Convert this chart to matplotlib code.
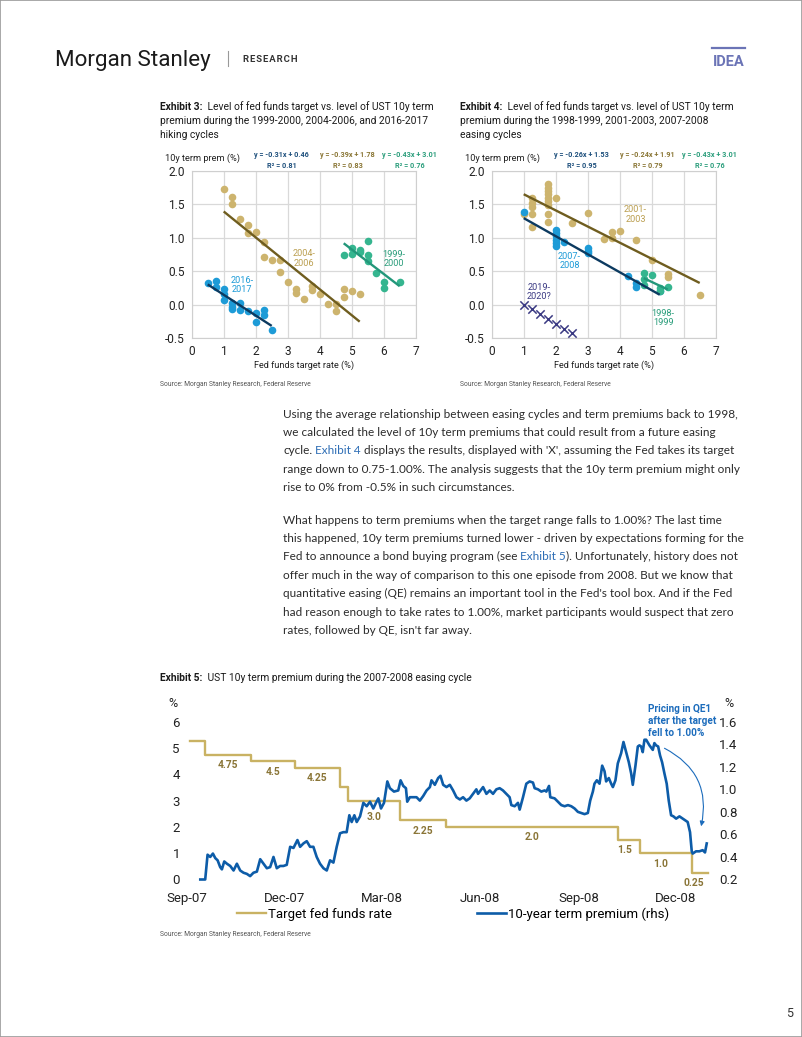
import numpy as np
import pandas as pd
import matplotlib
matplotlib.use('Agg')
import matplotlib.pyplot as plt
import matplotlib.dates as mdates
from matplotlib.patches import Rectangle, FancyArrowPatch
from matplotlib.lines import Line2D
from matplotlib.ticker import FormatStrFormatter

plt.rcParams['font.family'] = ['Roboto', 'DejaVu Sans']

# ---------------- Exhibit 3: hiking cycles ----------------
hike_9900_x = [4.75, 5.0, 5.0, 5.25, 5.25, 5.5, 5.5, 5.5, 5.75, 6.0, 6.0, 6.5]
hike_9900_y = [0.75, 0.84, 0.76, 0.82, 0.79, 0.95, 0.74, 0.65, 0.48, 0.34, 0.25, 0.34]
hike_0406_x = [1.0, 1.25, 1.25, 1.5, 1.75, 1.75, 2.0, 2.25, 2.25, 2.5, 2.75, 2.75, 3.0,
               3.25, 3.25, 3.5, 3.75, 3.75, 4.0, 4.25, 4.5, 4.5, 4.75, 4.75, 5.0, 5.25]
hike_0406_y = [1.73, 1.61, 1.51, 1.28, 1.19, 1.07, 1.08, 0.94, 0.71, 0.67, 0.67, 0.49, 0.34,
               0.24, 0.18, 0.085, 0.28, 0.22, 0.16, 0.01, 0.01, -0.09, 0.24, 0.11, 0.20, 0.16]
hike_1617_x = [0.5, 0.75, 0.75, 1.0, 1.0, 1.0, 1.25, 1.25, 1.25, 1.5, 1.5, 1.75, 2.0, 2.0,
               2.25, 2.25, 2.5]
hike_1617_y = [0.33, 0.36, 0.26, 0.23, 0.16, 0.07, 0.02, -0.03, -0.07, 0.02, -0.08, -0.10,
               -0.13, -0.26, -0.08, -0.15, -0.38]

# ---------------- Exhibit 4: easing cycles ----------------
ease_9899_x = [4.75, 4.75, 4.75, 5.0, 5.25, 5.25, 5.5]
ease_9899_y = [0.47, 0.38, 0.30, 0.45, 0.25, 0.21, 0.26]
ease_0103_x = [1.0, 1.25, 1.25, 1.25, 1.25, 1.25, 1.75, 1.75, 1.75, 1.75, 1.75, 1.75, 1.75,
               1.75, 1.75, 2.0, 2.5, 3.0, 3.5, 3.75, 3.75, 4.0, 4.5, 5.0, 5.5, 5.5, 6.5]
ease_0103_y = [1.36, 1.60, 1.52, 1.46, 1.36, 1.16, 1.80, 1.75, 1.70, 1.65, 1.60, 1.55, 1.49,
               1.36, 1.24, 1.60, 1.22, 1.37, 0.98, 1.08, 1.00, 1.10, 0.97, 0.67, 0.46, 0.42, 0.15]
ease_0708_x = [1.0, 2.0, 2.0, 2.0, 2.0, 2.0, 2.0, 2.25, 3.0, 3.0, 3.0, 4.25, 4.5, 4.5, 5.25]
ease_0708_y = [1.39, 1.12, 1.07, 1.02, 0.97, 0.92, 0.87, 0.93, 0.84, 0.80, 0.77, 0.43, 0.32,
               0.27, 0.21]
ease_1920_x = [1.0, 1.25, 1.5, 1.75, 2.0, 2.25, 2.5]
ease_1920_y = [-0.01, -0.07, -0.14, -0.22, -0.29, -0.36, -0.43]

# ---------------- Exhibit 5: 2007-2008 easing ----------------
ffr_dates = ['2007-09-04', '2007-09-18', '2007-10-31', '2007-12-11', '2008-01-22', '2008-01-30',
             '2008-03-18', '2008-04-30', '2008-10-08', '2008-10-29', '2008-12-16', '2008-12-31']
ffr_rate = [5.25, 4.75, 4.5, 4.25, 3.5, 3.0, 2.25, 2.0, 1.5, 1.0, 0.25, 0.25]
ffr_step_labels = ['', '4.75', '4.5', '4.25', '', '3.0', '2.25', '2.0', '1.5', '1.0', '0.25']

tp_start = '2007-09-05'
tp_days = [8.6, 13.2, 15.4, 17.9, 20.4, 22.6, 24.8, 27.2, 28.8, 31, 33.5, 36.6, 39.7, 42.8,
           45.9, 49, 52.1, 55.2, 58.3, 61.5, 64.6, 67.7, 70.8, 73.9, 77, 80.1, 83.2, 86.3,
           89.4, 92.6, 95.7, 99.4, 101.9, 105, 108.1, 111.2, 114.3, 117.4, 120.5, 123.7,
           126.8, 129.9, 133, 136.1, 139.2, 142.3, 145.4, 147.9, 150.1, 152.6, 154.8, 157.9,
           161, 164.1, 167.2, 170.3, 172.8, 175, 177.5, 180.3, 183.4, 185.8, 189.6, 193.6,
           195.8, 198.3, 200.8, 202, 204.5, 207.6, 210.7, 213.8, 216.9, 220.1, 223.2, 224.7,
           227.8, 230.9, 233.1, 235.6, 238.7, 241.8, 244.9, 248, 251.2,
           254.2, 257.3, 260.4, 263.5, 266.6, 268.2, 272.9, 276, 279.1, 282.2, 285.3, 288.4,
           291.5, 294.6, 297.7, 299.3, 302.4, 305.5, 307.1, 310.2, 313.3, 316.4, 319.5, 321.1,
           324.2, 327.3, 330.4, 332, 334.5, 335.7, 339.7, 342.8, 346, 349.1, 352.2, 355.3,
           358.4, 361.5, 364.6, 367.7, 370.8, 373, 375.5, 377, 379.2, 381.7, 384.2, 386.4,
           387.9, 390.4, 392.6, 394.2, 396.6, 398.8, 401.9, 404.1, 406.6, 409.1, 411.3, 412.8,
           415.3, 417.5, 419, 420.6, 422.1, 423.7, 425.3, 428.4, 431.5, 433, 434.6, 436.5,
           438.3, 440.2, 442.4, 444.5, 446.4, 448.6, 450.8, 453.3, 456.4, 459.5, 461, 464.1,
           466.3, 467.9, 468.8, 471.9, 475, 478.1, 480.3, 481.9]
tp_vals = [0.20, 0.20, 0.42, 0.40, 0.43, 0.39, 0.37, 0.31, 0.29, 0.36, 0.34, 0.32, 0.28, 0.34,
           0.28, 0.26, 0.25, 0.23, 0.26, 0.27, 0.38, 0.34, 0.30, 0.31, 0.40, 0.30, 0.32, 0.32,
           0.33, 0.49, 0.48, 0.55, 0.49, 0.52, 0.54, 0.49, 0.49, 0.40, 0.34, 0.30, 0.28, 0.37,
           0.35, 0.49, 0.61, 0.62, 0.62, 0.77, 0.71, 0.77, 0.71, 0.76, 0.88, 0.85, 0.89, 0.83,
           0.88, 0.92, 0.83, 0.88, 1.07, 1.01, 0.98, 0.99, 1.08, 1.03, 1.01, 0.89, 0.93, 0.93,
           0.93, 0.90, 0.94, 0.99, 1.02, 1.08, 1.04, 1.10, 1.12, 1.04, 1.02, 1.04, 0.99, 0.93,
           0.91,
           0.93, 0.90, 0.92, 0.96, 1.00, 0.96, 1.02, 0.96, 0.99, 0.96, 1.00, 1.01, 0.99, 0.96,
           0.93, 0.86, 0.85, 0.88, 0.82, 0.93, 1.05, 1.07, 1.06, 1.01, 1.00, 0.98, 0.99, 0.98,
           1.03, 0.93, 0.92, 0.89, 0.86, 0.85, 0.86, 0.85, 0.83, 0.80, 0.79, 0.78, 0.79, 0.90,
           0.98, 1.05, 1.08, 1.05, 1.21, 1.16, 1.07, 1.10, 1.05, 1.02, 1.08, 1.23, 1.32, 1.42,
           1.33, 1.24, 1.14, 1.04, 1.21, 1.38, 1.39, 1.38, 1.33, 1.44, 1.44, 1.39, 1.35, 1.41,
           1.39, 1.38, 1.30, 1.24, 1.14, 1.05, 0.90, 0.77, 0.76, 0.74, 0.76, 0.74, 0.73, 0.71,
           0.62, 0.45, 0.43, 0.45, 0.45, 0.46, 0.44, 0.52]

# colours
GOLD_PT, GOLD_LN, GOLD_TX, EQ_GOLD = '#cdb46e', '#6f5d1f', '#bb9f50', '#8a7635'
BLUE_PT, NAVY_LN, EQ_NAVY = '#1d9bd7', '#0c3a60', '#1d4f7c'
TEAL_PT, TEAL_LN, TEAL_TX = '#35b58f', '#23977a', '#2a9d7b'
PURPLE = '#3b3a83'
FFR_GOLD, TP_BLUE, STEP_TX, ANN_BLUE = '#c9b263', '#0d5ca8', '#8a7537', '#1c6cbc'
TXT, LINK, GREY = '#2b2b2b', '#2d6db5', '#555555'

W, H = 802, 1037
fig = plt.figure(figsize=(W / 100, H / 100), dpi=100)
R = fig.canvas.get_renderer()


def fx(px):
    return px / W


def fy(py):
    return 1 - py / H


def width_px(s, **kw):
    t = fig.text(0, 0, s, **kw)
    w = t.get_window_extent(renderer=R).width
    t.remove()
    return w


def fit_size(s, target, **kw):
    return 10 * target / width_px(s, fontsize=10, **kw)


def runs(x, y, parts, **kw):
    # parts: list of (text, extra kwargs); joined with a space unless punctuation
    for i, (s, extra) in enumerate(parts):
        opts = dict(kw)
        opts.update(extra)
        if i > 0 and s[0] not in ').,':
            x += width_px('a a', **opts) - width_px('aa', **opts)
        t = fig.text(fx(x), fy(y), s, va='center_baseline', **opts)
        x += t.get_window_extent(renderer=R).width


# page frame + header
fig.add_artist(Rectangle((0, 0), 1, 1, transform=fig.transFigure, fill=False,
                         ec='#9a9a9a', lw=1.2))
ms = fit_size('Morgan Stanley', 155)
fig.text(fx(55), fy(58), 'Morgan Stanley', fontsize=ms, color='#1a1a1a',
         va='center_baseline')
fig.add_artist(Line2D([fx(228), fx(228)], [fy(51), fy(66)], color='#999999', lw=0.8))
runs(243, 58.5, [('R E S E A R C H'.replace(' ', '\u200a'), {})], fontsize=6.8,
     weight='bold', color='#333333')
fig.text(fx(728.5), fy(61), 'IDEA', fontsize=10.5, weight='bold', color='#6b74b6',
         ha='center', va='center_baseline')
fig.add_artist(Line2D([fx(712), fx(745)], [fy(47.5), fy(47.5)], color='#6b74b6', lw=1.6))

# exhibit titles
tsz = fit_size('Exhibit 4:  Level of fed funds target vs. level of UST 10y term', 272)
for x0, lines in [(160, ['Level of fed funds target vs. level of UST 10y term',
                         'premium during the 1999-2000, 2004-2006, and 2016-2017',
                         'hiking cycles']),
                  (460, ['Level of fed funds target vs. level of UST 10y term',
                         'premium during the 1998-1999, 2001-2003, 2007-2008',
                         'easing cycles'])]:
    num = '3' if x0 == 160 else '4'
    runs(x0, 106, [('Exhibit %s:' % num, {'weight': 'bold'}), (' ' + lines[0], {})],
         fontsize=tsz, color='#1a1a1a')
    for k, ln in enumerate(lines[1:]):
        fig.text(fx(x0), fy(120 + 14 * k), ln, fontsize=tsz, color='#1a1a1a',
                 va='center_baseline')
runs(160, 677, [('Exhibit 5:', {'weight': 'bold'}),
                (' UST 10y term premium during the 2007-2008 easing cycle', {})],
     fontsize=tsz, color='#1a1a1a')

src = 'Source: Morgan Stanley Research, Federal Reserve'
ssz = fit_size(src, 153)
for x, y in [(160, 383), (460, 383), (160, 934)]:
    fig.text(fx(x), fy(y), src, fontsize=ssz, color=GREY, va='center_baseline')

eq_sz = fit_size('y = -0.31x + 0.46', 55, weight='bold')
yl_sz = fit_size('10y term prem (%)', 76)
xl_sz = fit_size('Fed funds target rate (%)', 100)


# scatter panels
def panel(left, groups, labels, eqs, xmarks=None):
    ax = fig.add_axes([fx(left), fy(338), 224 / W, 167 / H])
    for x, y, cp, cl in groups:
        ax.scatter(x, y, s=30, color=cp, lw=0, zorder=3)
    if xmarks is not None:
        ax.scatter(xmarks[0], xmarks[1], marker='x', s=36, color=PURPLE, lw=1.1, zorder=3)
    for x, y, cp, cl in groups:
        k, b = np.polyfit(x, y, 1)
        xx = np.array([min(x), max(x)])
        ax.plot(xx, k * xx + b, color=cl, lw=1.7, zorder=4, solid_capstyle='butt')
    for s, x, y, c in labels:
        ax.text(x, y, s, color=c, ha='center', va='center', fontsize=xl_sz, linespacing=1.05)
    ax.set_xlim(0, 7)
    ax.set_ylim(-0.5, 2.0)
    ax.set_xticks(range(8))
    ax.set_yticks(np.arange(-0.5, 2.01, 0.5))
    ax.yaxis.set_major_formatter(FormatStrFormatter('%.1f'))
    ax.grid(color='#d9d9d9', lw=0.9)
    ax.set_axisbelow(True)
    for sp in ax.spines.values():
        sp.set_color('#cfcfcf')
    ax.tick_params(length=0, labelsize=8.6, pad=5, colors='#222222')
    ax.set_xlabel('Fed funds target rate (%)', fontsize=xl_sz, labelpad=2, color='#222222')
    fig.text(fx(left - 27), fy(157), '10y term prem (%)', fontsize=yl_sz,
             color='#222222', va='center_baseline')
    for (eq, r2, c), off in zip(eqs, [90, 156, 218]):
        fig.text(fx(left + off), fy(154), eq, fontsize=eq_sz, weight='bold',
                 color=c, ha='center', va='center_baseline')
        fig.text(fx(left + off), fy(164.5), r2, fontsize=eq_sz, weight='bold',
                 color=c, ha='center', va='center_baseline')
    return ax


panel(191.7,
      [(hike_0406_x, hike_0406_y, GOLD_PT, GOLD_LN),
       (hike_1617_x, hike_1617_y, BLUE_PT, NAVY_LN),
       (hike_9900_x, hike_9900_y, TEAL_PT, TEAL_LN)],
      [('2016-\n2017', 1.57, 0.29, BLUE_PT), ('2004-\n2006', 3.52, 0.69, GOLD_TX),
       ('1999-\n2000', 6.31, 0.68, TEAL_TX)],
      [('y = -0.31x + 0.46', 'R² = 0.81', EQ_NAVY),
       ('y = -0.39x + 1.78', 'R² = 0.83', EQ_GOLD),
       ('y = -0.43x + 3.01', 'R² = 0.76', TEAL_TX)])

panel(491.7,
      [(ease_0103_x, ease_0103_y, GOLD_PT, GOLD_LN),
       (ease_0708_x, ease_0708_y, BLUE_PT, NAVY_LN),
       (ease_9899_x, ease_9899_y, TEAL_PT, TEAL_LN)],
      [('2001-\n2003', 4.49, 1.35, GOLD_TX), ('2007-\n2008', 2.43, 0.65, BLUE_PT),
       ('2019-\n2020?', 1.48, 0.19, PURPLE), ('1998-\n1999', 5.36, -0.20, TEAL_TX)],
      [('y = -0.26x + 1.53', 'R² = 0.95', EQ_NAVY),
       ('y = -0.24x + 1.91', 'R² = 0.79', EQ_GOLD),
       ('y = -0.43x + 3.01', 'R² = 0.76', TEAL_TX)],
      xmarks=(ease_1920_x, ease_1920_y))

# body text
body = [
    [('Using the average relationship between easing cycles and term premiums back to 1998,', 0)],
    [('we calculated the level of 10y term premiums that could result from a future easing', 0)],
    [('cycle.', 0), ('Exhibit 4', 1),
     ("displays the results, displayed with 'X', assuming the Fed takes its target", 0)],
    [('range down to 0.75-1.00%. The analysis suggests that the 10y term premium might only', 0)],
    [('rise to 0% from -0.5% in such circumstances.', 0)],
    None,
    [('What happens to term premiums when the target range falls to 1.00%? The last time', 0)],
    [('this happened, 10y term premiums turned lower - driven by expectations forming for the', 0)],
    [('Fed to announce a bond buying program (see', 0), ('Exhibit 5', 1),
     ('). Unfortunately, history does not', 0)],
    [('offer much in the way of comparison to this one episode from 2008. But we know that', 0)],
    [("quantitative easing (QE) remains an important tool in the Fed's tool box. And if the Fed", 0)],
    [('had reason enough to take rates to 1.00%, market participants would suspect that zero', 0)],
    [("rates, followed by QE, isn't far away.", 0)],
]
bsz = fit_size(body[0][0][0], 452, family='Lato')
y = 413
for line in body:
    if line is None:
        y += 32.5 - 18.4
        continue
    runs(283, y, [(s, {'color': LINK if c else TXT}) for s, c in line],
         fontsize=bsz, family='Lato')
    y += 18.4

# Exhibit 5
t_ffr = pd.to_datetime(ffr_dates)
t_tp = pd.Timestamp(tp_start) + pd.to_timedelta(tp_days, unit='D')

ax5 = fig.add_axes([fx(186.8), fy(879.5), (707.9 - 186.8) / W, (879.5 - 721.7) / H])
l1, = ax5.plot(t_ffr, ffr_rate, drawstyle='steps-post', color=FFR_GOLD, lw=1.7,
               clip_on=False)
nudge = {'3.0': (0, -6), '1.5': (-5, 0), '1.0': (-6, 0), '0.25': (-6, 0)}
for i, lab in enumerate(ffr_step_labels):
    if not lab:
        continue
    mid = t_ffr[i] + (t_ffr[i + 1] - t_ffr[i]) / 2
    dx, dy = nudge.get(lab, (0, 0))
    ax5.annotate(lab, (mid, ffr_rate[i]), xytext=(dx * 0.72, -7.5 + dy * 0.72),
                 textcoords='offset points', ha='center', va='center', fontsize=7.4,
                 weight='bold', color=STEP_TX)
ax5.set_xlim(pd.Timestamp('2007-09-01'), pd.Timestamp('2008-12-31'))
ax5.set_ylim(0, 6)
ax5.set_yticks(range(7))
ax5.set_xticks(pd.date_range('2007-09-01', '2008-12-01', freq='3MS'))
ax5.xaxis.set_major_formatter(mdates.DateFormatter('%b-%y'))
ax5.tick_params(axis='x', length=0, labelsize=9.5, pad=9, colors='#222222')
ax5.tick_params(axis='y', length=0, labelsize=9.5, pad=5, colors='#222222')

ax5b = ax5.twinx()
l2, = ax5b.plot(t_tp, tp_vals, color=TP_BLUE, lw=1.9, clip_on=False)
ax5b.set_ylim(0.2, 1.6)
ax5b.set_yticks(np.arange(0.2, 1.61, 0.2))
ax5b.yaxis.set_major_formatter(FormatStrFormatter('%.1f'))
ax5b.tick_params(axis='y', length=0, labelsize=9.5, pad=8, colors='#222222')
for a in (ax5, ax5b):
    for sp in a.spines.values():
        sp.set_visible(False)

fig.text(fx(173), fy(702), '%', fontsize=9, ha='center', va='center_baseline', color='#222222')
fig.text(fx(729), fy(702), '%', fontsize=9, ha='center', va='center_baseline', color='#222222')

fig.text(fx(648), fy(704), 'Pricing in QE1\nafter the target\nfell to 1.00%', fontsize=7.2,
         weight='bold', color=ANN_BLUE, va='top', linespacing=1.25)
fig.add_artist(FancyArrowPatch((fx(662), fy(747)), (fx(700.5), fy(829)),
                               transform=fig.transFigure, connectionstyle='arc3,rad=-0.4',
                               arrowstyle='-|>', mutation_scale=7, lw=0.8, color=ANN_BLUE))

fig.legend([l1, l2], ['Target fed funds rate', '10-year term premium (rhs)'], loc='center',
           bbox_to_anchor=(fx(453), fy(914)), ncol=2, frameon=False,
           prop={'size': 9.5}, handlelength=2.2, handletextpad=0.1, columnspacing=6.5,
           borderaxespad=0)

fig.text(fx(786), fy(1012), '5', fontsize=9, color='#333333', va='center_baseline')

fig.savefig('out.png', dpi=100)
